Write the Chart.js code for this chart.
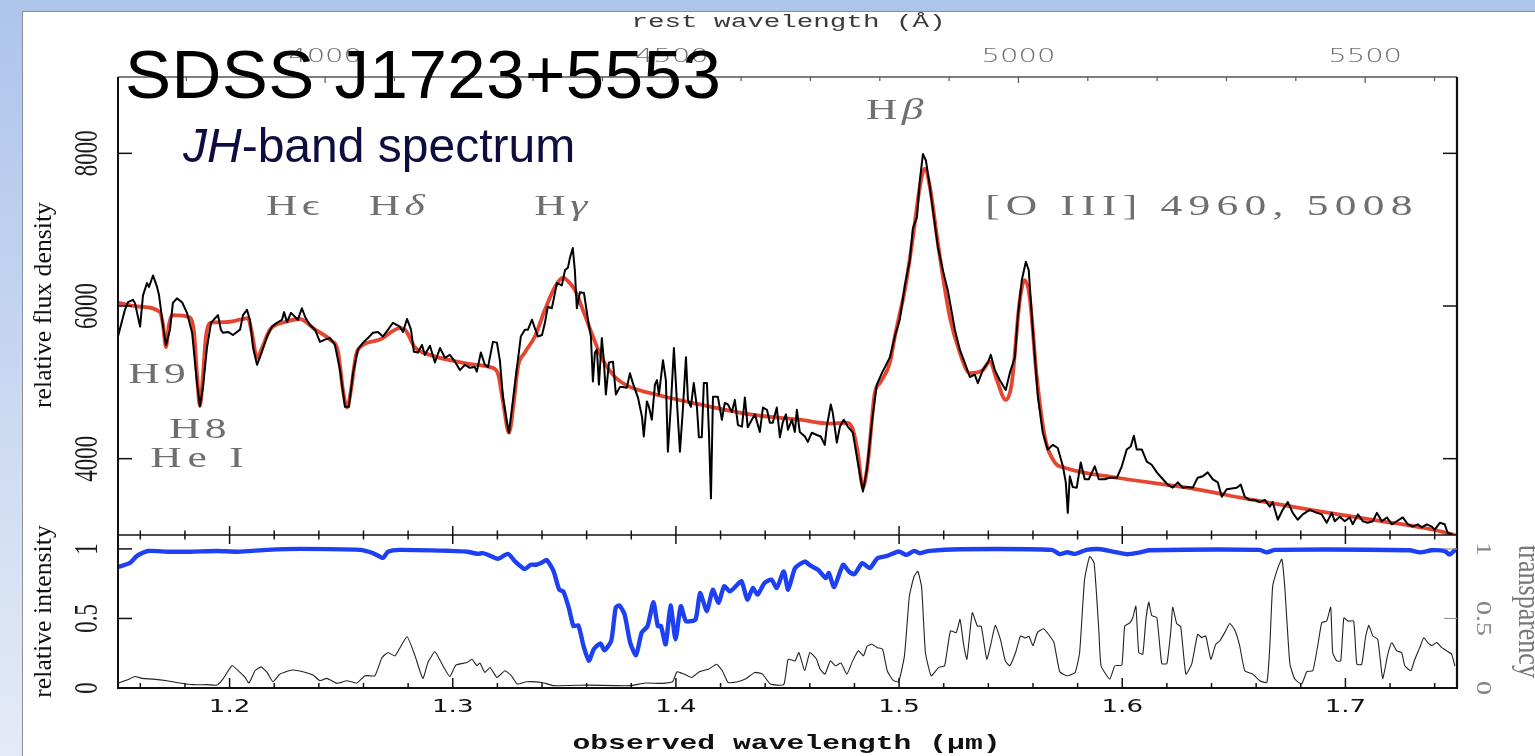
<!DOCTYPE html>
<html>
<head>
<meta charset="utf-8">
<script src="https://cdn.jsdelivr.net/npm/chart.js@4.4.1/dist/chart.umd.min.js"></script>
<style>
html,body{margin:0;padding:0;width:1535px;height:756px;overflow:hidden;background:#fff;}
#bandTop{position:absolute;left:0;top:0;width:1535px;height:11px;background:#adc4eb;}
#bandLeft{position:absolute;left:0;top:0;width:22px;height:756px;background:linear-gradient(#adc4eb,#e4ebf7);}
#page{position:absolute;left:22px;top:11px;width:1513px;height:745px;background:#fff;border-left:1px solid #8a8f99;border-top:1px solid #8a8f99;}
canvas{position:absolute;left:0;top:0;}
</style>
</head>
<body>
<div id="bandTop"></div>
<div id="bandLeft"></div>
<div id="page"></div>
<canvas id="cBottom" width="1535" height="756"></canvas>
<canvas id="cTop" width="1535" height="756"></canvas>
<script>
// ---------------- axis ranges & ticks ----------------
const ONE_PLUS_Z = 3.107;                 // observed / rest wavelength
const obsRange = [1.15, 1.75];            // observed wavelength (micron)
const fluxRange = [3000, 9000];
const intensityRange = [0, 1.1];
const fluxTicks = [4000, 6000, 8000];
const obsMajorTicks = [1.2, 1.3, 1.4, 1.5, 1.6, 1.7];
const obsMinorStep = 0.02;
const restMajorTicks = [4000, 4500, 5000, 5500];
const restMinorStep = 100;
const intensityTicks = [0, 0.5, 1];

// ---------------- observed spectrum (black) ----------------
const specWave = [
1.1500,1.1531,1.1545,1.1567,1.1576,1.1599,1.1612,1.1630,1.1639,1.1657,
1.1675,1.1684,1.1702,1.1715,1.1733,1.1746,1.1764,1.1787,1.1809,1.1832,
1.1854,1.1867,1.1881,1.1899,1.1917,1.1935,1.1948,1.1961,1.1970,1.1993,
1.2015,1.2047,1.2060,1.2078,1.2091,1.2105,1.2123,1.2145,1.2168,1.2190,
1.2212,1.2235,1.2244,1.2257,1.2275,1.2293,1.2306,1.2324,1.2338,1.2360,
1.2383,1.2405,1.2427,1.2450,1.2472,1.2495,1.2517,1.2535,1.2553,1.2575,
1.2598,1.2620,1.2642,1.2665,1.2687,1.2710,1.2732,1.2763,1.2777,1.2795,
1.2813,1.2826,1.2844,1.2862,1.2875,1.2898,1.2920,1.2943,1.2965,1.2987,
1.3010,1.3032,1.3055,1.3077,1.3099,1.3108,1.3126,1.3144,1.3158,1.3180,
1.3198,1.3211,1.3225,1.3243,1.3252,1.3270,1.3288,1.3305,1.3323,1.3337,
1.3355,1.3368,1.3382,1.3400,1.3413,1.3426,1.3444,1.3467,1.3489,1.3503,
1.3516,1.3525,1.3538,1.3547,1.3556,1.3570,1.3588,1.3606,1.3619,1.3628,
1.3637,1.3646,1.3655,1.3668,1.3677,1.3686,1.3700,1.3718,1.3731,1.3749,
1.3762,1.3780,1.3794,1.3807,1.3830,1.3848,1.3856,1.3870,1.3879,1.3892,
1.3906,1.3915,1.3924,1.3942,1.3955,1.3964,1.3977,1.3991,1.4004,1.4018,
1.4031,1.4045,1.4054,1.4067,1.4080,1.4094,1.4103,1.4116,1.4125,1.4139,
1.4148,1.4157,1.4166,1.4188,1.4206,1.4219,1.4233,1.4251,1.4264,1.4278,
1.4296,1.4309,1.4322,1.4340,1.4354,1.4376,1.4390,1.4408,1.4421,1.4434,
1.4452,1.4466,1.4479,1.4493,1.4502,1.4520,1.4533,1.4542,1.4555,1.4578,
1.4591,1.4609,1.4632,1.4649,1.4667,1.4676,1.4694,1.4703,1.4721,1.4735,
1.4752,1.4770,1.4793,1.4815,1.4838,1.4856,1.4878,1.4900,1.4923,1.4959,
1.4981,1.5003,1.5026,1.5048,1.5062,1.5080,1.5093,1.5107,1.5120,1.5138,
1.5156,1.5174,1.5196,1.5218,1.5236,1.5250,1.5272,1.5294,1.5317,1.5339,
1.5353,1.5375,1.5398,1.5411,1.5429,1.5451,1.5478,1.5496,1.5519,1.5532,
1.5550,1.5568,1.5581,1.5599,1.5622,1.5644,1.5666,1.5689,1.5711,1.5734,
1.5747,1.5756,1.5765,1.5778,1.5796,1.5814,1.5832,1.5850,1.5877,1.5895,
1.5922,1.5944,1.5976,1.5998,1.6020,1.6038,1.6052,1.6065,1.6088,1.6110,
1.6132,1.6155,1.6182,1.6204,1.6226,1.6249,1.6271,1.6294,1.6316,1.6338,
1.6361,1.6383,1.6406,1.6428,1.6446,1.6468,1.6491,1.6513,1.6531,1.6549,
1.6571,1.6594,1.6616,1.6639,1.6661,1.6674,1.6697,1.6719,1.6742,1.6764,
1.6786,1.6809,1.6840,1.6872,1.6894,1.6916,1.6939,1.6952,1.6975,1.6997,
1.7019,1.7033,1.7056,1.7078,1.7100,1.7123,1.7141,1.7163,1.7186,1.7208,
1.7230,1.7257,1.7280,1.7302,1.7324,1.7342,1.7365,1.7387,1.7400,1.7423,
1.7445,1.7458,1.7476];
const specFlux = [
5600,5950,6050,6080,6040,5730,6140,6300,6250,6400,
6250,6140,5730,5490,5690,6040,6100,6050,5910,5650,
4990,4690,4940,5460,5780,5840,5880,5690,5650,5660,
5620,5690,5880,5950,5820,5460,5230,5400,5600,5730,
5780,5820,5920,5790,5910,5860,5820,5970,5860,5750,
5690,5530,5560,5580,5490,5160,4680,4680,5120,5430,
5520,5580,5650,5660,5600,5690,5780,5730,5660,5830,
5690,5400,5390,5490,5360,5480,5260,5450,5320,5360,
5270,5160,5230,5190,5200,5140,5390,5230,5200,5530,
5520,5290,4810,4470,4340,4770,5200,5600,5690,5690,
5820,5710,5600,5620,5780,5990,5970,6300,6270,6470,
6500,6630,6760,6470,5970,6180,6170,5820,5600,5010,
5390,5430,4970,5580,5290,4840,5260,5270,4840,4940,
4940,4930,5120,4990,4800,4550,4290,4750,4680,4510,
4970,5030,4840,5290,5030,4090,4680,5450,4770,4090,
4640,5330,4770,4680,4990,4680,4280,4280,4990,4990,
4340,3480,4810,4810,4510,4730,4710,4610,4770,4440,
4420,4800,4410,4510,4580,4350,4670,4640,4470,4470,
4670,4280,4480,4580,4380,4510,4350,4640,4350,4290,
4220,4340,4310,4290,4180,4420,4710,4600,4210,4420,
4510,4420,4340,3950,3570,3860,4470,4970,5120,5330,
5600,5820,6270,6600,7020,7160,7650,7990,7910,7560,
7160,6770,6470,6210,5920,5690,5430,5260,5070,5100,
4990,5160,5260,5360,5160,5030,4900,5120,5330,5860,
6340,6580,6470,5690,4810,4340,4120,4180,4140,3900,
3690,3290,3770,3630,3620,3950,3730,3730,3900,3730,
3730,3750,3750,3900,4120,4160,4300,4120,4120,3960,
3920,3820,3730,3660,3620,3690,3620,3630,3620,3750,
3770,3820,3730,3690,3500,3600,3610,3620,3660,3500,
3460,3460,3430,3460,3370,3430,3200,3330,3430,3290,
3200,3270,3330,3290,3270,3160,3290,3180,3240,3180,
3230,3140,3270,3180,3160,3180,3290,3180,3230,3140,
3180,3230,3140,3110,3140,3100,3140,3110,3070,3160,
3140,3030,3010];

// ---------------- model fit (red) ----------------
const fitWave = [
1.1500,1.1599,1.1688,1.1702,1.1715,1.1728,1.1742,1.1823,1.1841,1.1854,
1.1867,1.1881,1.1894,1.1912,1.1979,1.2047,1.2082,1.2100,1.2123,1.2145,
1.2181,1.2248,1.2315,1.2383,1.2450,1.2486,1.2508,1.2526,1.2544,1.2566,
1.2584,1.2674,1.2763,1.2786,1.2830,1.2898,1.2987,1.3077,1.3167,1.3202,
1.3225,1.3252,1.3274,1.3292,1.3323,1.3368,1.3413,1.3458,1.3494,1.3512,
1.3547,1.3583,1.3628,1.3673,1.3727,1.3794,1.3884,1.4107,1.4331,1.4555,
1.4690,1.4770,1.4793,1.4815,1.4838,1.4860,1.4891,1.4914,1.4959,1.4981,
1.5003,1.5026,1.5062,1.5093,1.5115,1.5138,1.5174,1.5227,1.5272,1.5317,
1.5375,1.5406,1.5438,1.5478,1.5505,1.5541,1.5563,1.5585,1.5617,1.5653,
1.5698,1.5743,1.5976,1.6289,1.6585,1.6885,1.7167,1.7391,1.7490];
const fitFlux = [
6040,5990,5920,5750,5460,5750,5880,5850,5650,5100,
4690,5100,5600,5780,5790,5820,5840,5650,5320,5450,
5690,5790,5830,5690,5560,5400,4900,4670,4900,5350,
5460,5560,5710,5690,5460,5360,5290,5240,5200,5120,
4750,4340,4750,5200,5390,5600,5950,6250,6370,6340,
6210,5950,5600,5290,5070,4940,4860,4710,4580,4510,
4460,4470,4380,4080,3620,3950,4860,4990,5260,5600,
5900,6210,6900,7560,7800,7560,6820,5860,5390,5120,
5160,5270,5030,4770,4990,6080,6340,6120,5070,4290,
3950,3880,3750,3620,3460,3310,3180,3070,3000];

// ---------------- atmospheric transparency (blue) ----------------
const transWave = [
1.1500,1.1554,1.1585,1.1634,1.1720,1.1823,1.1944,1.2038,1.2168,1.2315,
1.2584,1.2642,1.2687,1.2710,1.2763,1.2987,1.3064,1.3113,1.3135,1.3158,
1.3202,1.3247,1.3280,1.3323,1.3349,1.3374,1.3400,1.3421,1.3452,1.3477,
1.3495,1.3520,1.3541,1.3563,1.3586,1.3610,1.3632,1.3662,1.3679,1.3710,
1.3730,1.3747,1.3770,1.3795,1.3821,1.3847,1.3873,1.3899,1.3919,1.3933,
1.3954,1.3976,1.3998,1.4022,1.4045,1.4088,1.4108,1.4139,1.4165,1.4191,
1.4216,1.4242,1.4268,1.4294,1.4320,1.4345,1.4366,1.4397,1.4428,1.4452,
1.4483,1.4503,1.4534,1.4577,1.4603,1.4637,1.4672,1.4685,1.4709,1.4749,
1.4775,1.4800,1.4835,1.4869,1.4903,1.4947,1.4998,1.5033,1.5067,1.5093,
1.5136,1.5273,1.5685,1.5720,1.5754,1.5789,1.5840,1.5905,1.5958,1.6020,
1.6079,1.6123,1.6616,1.6648,1.6684,1.7289,1.7333,1.7387,1.7445,1.7467,
1.7490];
const transVal = [
0.870,0.900,0.950,0.985,0.980,0.980,0.985,0.980,0.993,1.000,
0.993,0.970,0.936,0.980,0.993,0.986,0.980,0.964,0.970,0.957,
0.929,0.964,0.909,0.855,0.886,0.886,0.902,0.921,0.838,0.707,
0.695,0.576,0.445,0.450,0.302,0.195,0.279,0.321,0.271,0.338,
0.576,0.593,0.529,0.326,0.236,0.400,0.445,0.616,0.445,0.445,
0.314,0.593,0.350,0.588,0.481,0.493,0.683,0.552,0.707,0.612,
0.731,0.695,0.731,0.767,0.636,0.719,0.671,0.755,0.779,0.719,
0.838,0.707,0.862,0.909,0.879,0.850,0.790,0.826,0.726,0.886,
0.838,0.819,0.898,0.862,0.933,0.950,0.981,0.957,0.986,0.969,
0.986,0.998,0.993,0.962,0.976,0.964,0.993,0.998,0.980,0.962,
0.975,0.990,0.993,0.975,0.993,0.990,0.975,0.990,0.985,0.960,
0.990];

// ---------------- sky emission (thin black) ----------------
const skyWave = [
1.1500,1.1540,1.1576,1.1608,1.1657,1.1720,1.1778,1.1836,1.1899,1.1944,
1.1970,1.2011,1.2047,1.2069,1.2087,1.2114,1.2141,1.2168,1.2194,1.2226,
1.2280,1.2329,1.2374,1.2405,1.2436,1.2481,1.2526,1.2571,1.2607,1.2651,
1.2683,1.2710,1.2741,1.2795,1.2831,1.2866,1.2889,1.2920,1.2956,1.2987,
1.3014,1.3064,1.3086,1.3108,1.3122,1.3144,1.3167,1.3198,1.3234,1.3263,
1.3289,1.3331,1.3400,1.3452,1.3606,1.3727,1.3796,1.3864,1.3933,1.3985,
1.4005,1.4036,1.4071,1.4105,1.4148,1.4182,1.4208,1.4234,1.4277,1.4311,
1.4354,1.4388,1.4423,1.4483,1.4503,1.4534,1.4551,1.4577,1.4600,1.4629,
1.4646,1.4668,1.4692,1.4715,1.4740,1.4766,1.4792,1.4818,1.4840,1.4857,
1.4878,1.4903,1.4926,1.4947,1.4973,1.4998,1.5024,1.5046,1.5067,1.5084,
1.5101,1.5118,1.5144,1.5178,1.5204,1.5230,1.5256,1.5273,1.5290,1.5304,
1.5328,1.5351,1.5368,1.5393,1.5411,1.5431,1.5454,1.5476,1.5496,1.5522,
1.5544,1.5565,1.5582,1.5600,1.5620,1.5647,1.5672,1.5694,1.5720,1.5754,
1.5789,1.5809,1.5831,1.5854,1.5874,1.5895,1.5905,1.5944,1.5967,1.5998,
1.6011,1.6034,1.6047,1.6061,1.6074,1.6092,1.6106,1.6119,1.6132,1.6155,
1.6177,1.6200,1.6218,1.6226,1.6244,1.6262,1.6285,1.6311,1.6338,1.6356,
1.6374,1.6397,1.6419,1.6437,1.6459,1.6482,1.6504,1.6526,1.6549,1.6585,
1.6616,1.6648,1.6661,1.6674,1.6697,1.6715,1.6728,1.6751,1.6773,1.6804,
1.6827,1.6854,1.6876,1.6894,1.6916,1.6934,1.6943,1.6961,1.6979,1.6993,
1.7011,1.7037,1.7051,1.7073,1.7091,1.7105,1.7123,1.7145,1.7167,1.7190,
1.7208,1.7230,1.7252,1.7266,1.7293,1.7311,1.7333,1.7351,1.7369,1.7387,
1.7409,1.7432,1.7454,1.7476,1.7490];
const skyVal = [
0.036,0.057,0.083,0.069,0.064,0.052,0.036,0.024,0.024,0.021,
0.064,0.160,0.112,0.076,0.036,0.124,0.152,0.112,0.045,0.100,
0.129,0.117,0.093,0.052,0.069,0.033,0.052,0.036,0.088,0.088,
0.219,0.255,0.231,0.369,0.231,0.069,0.183,0.260,0.160,0.083,
0.164,0.183,0.207,0.160,0.179,0.112,0.148,0.076,0.124,0.088,
0.029,0.045,0.040,0.017,0.021,0.017,0.017,0.036,0.033,0.045,
0.117,0.100,0.076,0.117,0.136,0.171,0.124,0.040,0.045,0.064,
0.112,0.100,0.029,0.024,0.207,0.195,0.255,0.124,0.255,0.210,
0.136,0.100,0.195,0.160,0.179,0.100,0.195,0.267,0.231,0.302,
0.314,0.290,0.279,0.124,0.055,0.045,0.231,0.660,0.802,0.838,
0.726,0.255,0.088,0.148,0.160,0.410,0.398,0.493,0.302,0.207,
0.541,0.445,0.445,0.207,0.314,0.450,0.350,0.195,0.160,0.255,
0.374,0.360,0.371,0.305,0.398,0.426,0.381,0.326,0.117,0.088,
0.112,0.255,0.779,0.945,0.898,0.417,0.160,0.064,0.160,0.164,
0.445,0.469,0.505,0.588,0.255,0.243,0.493,0.617,0.521,0.505,
0.176,0.176,0.417,0.581,0.464,0.440,0.100,0.171,0.386,0.362,
0.374,0.207,0.314,0.338,0.398,0.464,0.417,0.305,0.124,0.100,
0.052,0.040,0.293,0.731,0.862,0.926,0.731,0.176,0.064,0.029,
0.117,0.124,0.305,0.469,0.481,0.581,0.255,0.195,0.195,0.505,
0.481,0.481,0.171,0.171,0.374,0.450,0.374,0.350,0.069,0.243,
0.326,0.267,0.255,0.160,0.124,0.207,0.290,0.362,0.326,0.305,
0.326,0.290,0.267,0.243,0.160];

// ---------------- text labels ----------------
const lineLabels = [
  {parts: [['H',''], ['β','italic']], at: [1.4990, 8555], ls: 3},
  {parts: [['[O III] 4960, 5008','']], at: [1.6357, 7290], ls: 4.3},
  {parts: [['H',''], ['ϵ','']], at: [1.2293, 7290], ls: 3},
  {parts: [['H',''], ['δ','italic']], at: [1.2759, 7290], ls: 3},
  {parts: [['H',''], ['γ','italic']], at: [1.3494, 7290], ls: 3},
  {parts: [['H9','']], at: [1.1684, 5095], ls: 3},
  {parts: [['H8','']], at: [1.1867, 4378], ls: 3},
  {parts: [['He I','']], at: [1.1867, 4000], ls: 4}
];
const titleText = 'SDSS J1723+5553';
const subtitleParts = [['JH','italic'], ['-band spectrum','']];
const restAxisTitle = 'rest wavelength (Å)';
const obsAxisTitle = 'observed wavelength (μm)';
const fluxAxisTitle = 'relative flux density';
const intensityAxisTitle = 'relative intensity';
const transAxisTitle = 'transparency';

// ---------------- helpers ----------------
const pts = (xs, ys) => xs.map((v, i) => ({x: v, y: ys[i]}));
const STRETCH = 1.45;
function seg(ctx, x1, y1, x2, y2, color, w) {
  ctx.beginPath(); ctx.moveTo(x1, y1); ctx.lineTo(x2, y2);
  ctx.strokeStyle = color; ctx.lineWidth = w; ctx.stroke();
}
function text(ctx, s, x, y, o) {
  ctx.save();
  ctx.translate(x, y);
  ctx.scale(o.sx === undefined ? STRETCH : o.sx, 1);
  if (o.rot) ctx.rotate(o.rot);
  ctx.font = o.font; ctx.fillStyle = o.color || '#000';
  ctx.textAlign = o.align || 'center'; ctx.textBaseline = o.base || 'middle';
  ctx.letterSpacing = (o.ls || 0) + 'px';
  ctx.fillText(s, 0, 0);
  ctx.restore();
}
function rich(ctx, parts, x, y, o) {
  ctx.save();
  ctx.translate(x, y);
  ctx.scale(o.sx === undefined ? STRETCH : o.sx, 1);
  ctx.fillStyle = o.color || '#000';
  ctx.textBaseline = o.base || 'middle'; ctx.textAlign = 'left';
  ctx.letterSpacing = (o.ls || 0) + 'px';
  const ws = parts.map(([t, st]) => { ctx.font = (st + ' ' + o.font).trim(); return ctx.measureText(t).width; });
  const total = ws.reduce((a, b) => a + b, 0);
  let cx = o.align === 'left' ? 0 : -total / 2;
  parts.forEach(([t, st], i) => { ctx.font = (st + ' ' + o.font).trim(); ctx.fillText(t, cx, 0); cx += ws[i]; });
  ctx.restore();
}
function obsTickList() {
  const out = [];
  for (let k = Math.ceil(obsRange[0] / obsMinorStep - 1e-6); k * obsMinorStep <= obsRange[1] + 1e-9; k++) {
    const v = +(k * obsMinorStep).toFixed(3);
    out.push({v, major: obsMajorTicks.some(m => Math.abs(m - v) < 1e-6)});
  }
  return out;
}

// ---------------- top panel decorations ----------------
const topDecor = {
  id: 'topDecor',
  afterDraw(chart) {
    const {ctx, chartArea: a, scales} = chart;
    const x = scales.x, xr = scales.xr, y = scales.y;
    ctx.save();
    ctx.lineCap = 'butt';
    seg(ctx, a.left, a.top, a.right, a.top, '#555', 1.3);
    seg(ctx, a.left, a.top, a.left, a.bottom, '#111', 2);
    seg(ctx, a.right, a.top, a.right, a.bottom, '#111', 2.2);
    seg(ctx, a.left, a.bottom, a.right, a.bottom, '#111', 1.6);
    for (const t of obsTickList()) {
      const px = x.getPixelForValue(t.v);
      seg(ctx, px, a.bottom, px, a.bottom - (t.major ? 9 : 4.5), '#111', 1.5);
    }
    for (let r = Math.ceil(xr.min / restMinorStep) * restMinorStep; r <= xr.max; r += restMinorStep) {
      const px = xr.getPixelForValue(r);
      const major = restMajorTicks.includes(r);
      seg(ctx, px, a.top, px, a.top + (major ? 6 : 4), '#555', 1.2);
    }
    for (const r of restMajorTicks) {
      text(ctx, String(r), xr.getPixelForValue(r), 57, {font: '200 20px "DejaVu Sans"', color: '#6e6e6e'});
    }
    text(ctx, restAxisTitle, (a.left + a.right) / 2 + 1, 22, {font: '19px "Liberation Mono"', color: '#3a3a3a'});
    for (const v of fluxTicks) {
      const py = y.getPixelForValue(v);
      seg(ctx, a.left, py, a.left + 14, py, '#111', 1.5);
      seg(ctx, a.right, py, a.right - 14, py, '#111', 1.5);
      text(ctx, String(v), 88, py, {font: '23px "Liberation Serif"', color: '#1a1a1a', rot: -Math.PI / 2});
    }
    text(ctx, fluxAxisTitle, 44, (a.top + a.bottom) / 2 - 1, {font: '25.75px "Liberation Serif"', color: '#111', rot: -Math.PI / 2, sx: 1});
    for (const lb of lineLabels) {
      rich(ctx, lb.parts, x.getPixelForValue(lb.at[0]), y.getPixelForValue(lb.at[1]),
        {font: '30px "Liberation Serif", "DejaVu Serif"', color: '#6f6f6f', ls: lb.ls});
    }
    text(ctx, titleText, 125, 98, {font: '69px "Liberation Sans"', color: '#000', align: 'left', base: 'alphabetic', sx: 1, ls: 0.5});
    rich(ctx, subtitleParts, 183, 162, {font: '48px "Liberation Sans"', color: '#0d0d3f', align: 'left', base: 'alphabetic', sx: 1});
    ctx.restore();
  }
};

// ---------------- bottom panel decorations ----------------
const bottomDecor = {
  id: 'bottomDecor',
  afterDraw(chart) {
    const {ctx, chartArea: a, scales} = chart;
    const x = scales.x, y = scales.y;
    ctx.save();
    ctx.lineCap = 'butt';
    seg(ctx, a.left, a.top, a.left, a.bottom, '#111', 2);
    seg(ctx, a.right, a.top, a.right, a.bottom, '#111', 2.2);
    seg(ctx, a.left - 1, a.bottom, a.right + 1, a.bottom, '#111', 2);
    for (const t of obsTickList()) {
      const px = x.getPixelForValue(t.v);
      seg(ctx, px, a.bottom, px, a.bottom - (t.major ? 10 : 5), '#111', 1.5);
      seg(ctx, px, a.top, px, a.top + (t.major ? 9 : 4.5), '#111', 1.5);
    }
    for (const v of obsMajorTicks) {
      text(ctx, v.toFixed(1), x.getPixelForValue(v), 707, {font: '18px "DejaVu Sans"', color: '#111'});
    }
    text(ctx, obsAxisTitle, (a.left + a.right) / 2 - 1, 744, {font: 'bold 20.5px "Liberation Mono"', color: '#111'});
    for (const v of intensityTicks) {
      const py = y.getPixelForValue(v);
      if (v > 0) seg(ctx, a.left, py, a.left + 14, py, '#111', 1.5);
      if (v > 0) seg(ctx, a.right, py, a.right - 13, py, '#999', 1.2);
      text(ctx, String(v), 88, py, {font: '23px "Liberation Serif"', color: '#1a1a1a', rot: -Math.PI / 2});
      text(ctx, String(v), 1483, py, {font: '28px "Liberation Serif"', color: '#858585', rot: Math.PI / 2, sx: 0.75});
    }
    text(ctx, intensityAxisTitle, 44, (a.top + a.bottom) / 2, {font: '25.8px "Liberation Serif"', color: '#111', rot: -Math.PI / 2, sx: 1});
    text(ctx, transAxisTitle, 1519, (a.top + a.bottom) / 2, {font: '26px "Liberation Serif"', color: '#777', rot: Math.PI / 2, sx: 1.2, base: 'alphabetic'});
    ctx.restore();
  }
};

const common = {
  responsive: false, animation: false, devicePixelRatio: 1,
  plugins: {legend: {display: false}, tooltip: {enabled: false}},
  elements: {point: {radius: 0}, line: {borderJoinStyle: 'round', borderCapStyle: 'round'}}
};

new Chart(document.getElementById('cBottom'), {
  type: 'line',
  data: {datasets: [
    {label: 'transparency', data: pts(transWave, transVal), borderColor: '#1d40f2', borderWidth: 4.4, tension: 0.2, order: 1},
    {label: 'sky emission', data: pts(skyWave, skyVal), borderColor: '#222', borderWidth: 1.1, tension: 0.15, order: 2}
  ]},
  options: Object.assign({}, common, {
    layout: {padding: {left: 118, right: 1535 - 1457, top: 535, bottom: 756 - 688}},
    scales: {
      x: {type: 'linear', min: obsRange[0], max: obsRange[1], display: false},
      y: {type: 'linear', min: intensityRange[0], max: intensityRange[1], display: false}
    }
  }),
  plugins: [bottomDecor]
});

new Chart(document.getElementById('cTop'), {
  type: 'line',
  data: {datasets: [
    {label: 'observed', data: pts(specWave, specFlux), borderColor: '#000', borderWidth: 2, tension: 0, order: 1},
    {label: 'fit', data: pts(fitWave, fitFlux), borderColor: '#e6452f', borderWidth: 3.8, cubicInterpolationMode: 'monotone', order: 2}
  ]},
  options: Object.assign({}, common, {
    layout: {padding: {left: 118, right: 1535 - 1457, top: 77, bottom: 756 - 535}},
    scales: {
      x: {type: 'linear', min: obsRange[0], max: obsRange[1], display: false},
      xr: {type: 'linear', axis: 'x', min: obsRange[0] * 1e4 / ONE_PLUS_Z, max: obsRange[1] * 1e4 / ONE_PLUS_Z, display: false},
      y: {type: 'linear', min: fluxRange[0], max: fluxRange[1], display: false}
    }
  }),
  plugins: [topDecor]
});
</script>
</body>
</html>
